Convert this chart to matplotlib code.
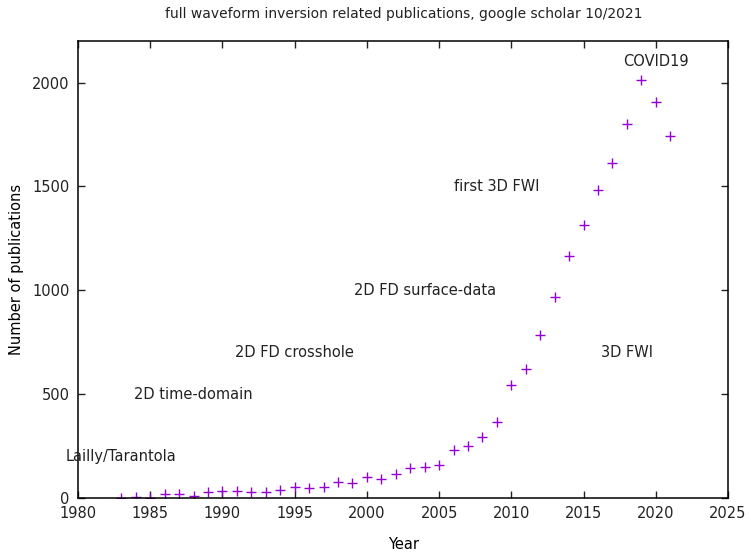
import matplotlib
matplotlib.use("Agg")
import matplotlib.pyplot as plt

# Yearly publication counts
years = list(range(1983, 2022))
counts = [2, 3, 1, 18, 18, 11, 27, 32, 32, 27, 27, 37, 54, 46, 51, 77, 72,
          99, 91, 117, 144, 149, 160, 230, 248, 293, 368, 544, 619, 785,
          966, 1164, 1312, 1481, 1612, 1800, 2011, 1905, 1744]

# Milestone annotations (label, year, height)
notes = ["Lailly/Tarantola", "2D time-domain", "2D FD crosshole",
         "2D FD surface-data", "first 3D FWI", "3D FWI", "COVID19"]
note_x = [1983, 1988, 1995, 2004, 2009, 2018, 2020]
note_y = [200, 500, 700, 1000, 1500, 700, 2100]

xticks = [1980, 1985, 1990, 1995, 2000, 2005, 2010, 2015, 2020, 2025]
yticks = [0, 500, 1000, 1500, 2000]

plt.rcParams['font.family'] = ['DejaVu Sans']
fig = plt.figure(figsize=(7.51, 5.53), dpi=100)
ax = fig.add_axes([0.1039, 0.0995, 0.8655, 0.8264])

ax.plot(years, counts, linestyle='none', marker='+', color='#9400d3',
        markersize=6.5, markeredgewidth=1.0)

for t, x, y in zip(notes, note_x, note_y):
    ax.text(x, y, t, ha='center', va='center', fontsize=10.5, color='#222222')

ax.set_xlim(1980, 2025)
ax.set_ylim(0, 2200)
ax.set_xticks(xticks)
ax.set_yticks(yticks)
ax.tick_params(direction='in', length=5, width=1, top=True, right=True,
               labelsize=10.5, pad=6, colors='#222222')
for s in ax.spines.values():
    s.set_linewidth(1.1)

ax.set_xlabel('Year', fontsize=10.5, labelpad=11)
ax.set_ylabel('Number of publications', fontsize=10.5, labelpad=6)
fig.text(0.537, 0.975, 'full waveform inversion related publications, google scholar 10/2021',
         ha='center', va='center', fontsize=10, color='#222222')

fig.savefig('out.png', dpi=100)
